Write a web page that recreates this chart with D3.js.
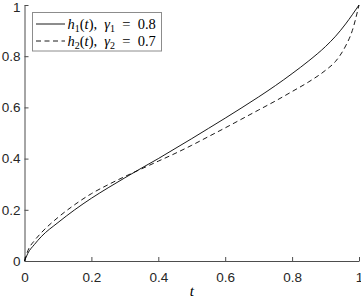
<!DOCTYPE html>
<html>
<head>
<meta charset="utf-8">
<script src="https://cdn.jsdelivr.net/npm/d3@7"></script>
<style>
  body { margin: 0; background: #fff; }
  svg { display: block; }
  .tick text { font-family: "Liberation Sans", Arial, sans-serif; font-size: 13.5px; fill: #262626; }
  .legend text, .xlabel { font-family: "Liberation Serif", "Times New Roman", serif; fill: #000; }
</style>
</head>
<body>
<div id="chart"></div>
<script>
// valores
const tValues  = [0, 0.01, 0.03, 0.05, 0.1, 0.15, 0.2, 0.25, 0.3, 0.35, 0.4, 0.45, 0.5, 0.55, 0.6, 0.65, 0.7, 0.75, 0.8, 0.85, 0.9, 0.93, 0.96, 0.98, 1];
const h1Values = [0, 0.03, 0.065, 0.095, 0.15, 0.2, 0.245, 0.286, 0.325, 0.363, 0.4, 0.439, 0.478, 0.518, 0.558, 0.599, 0.641, 0.685, 0.732, 0.782, 0.838, 0.878, 0.926, 0.962, 1];
const h2Values = [0, 0.04, 0.08, 0.11, 0.17, 0.22, 0.263, 0.298, 0.33, 0.36, 0.39, 0.42, 0.452, 0.486, 0.52, 0.555, 0.59, 0.625, 0.662, 0.7, 0.745, 0.78, 0.84, 0.9, 1];
const xTicks = [0, 0.2, 0.4, 0.6, 0.8, 1];
const yTicks = [0, 0.2, 0.4, 0.6, 0.8, 1];
const seriesNames = [
  {h: "h", sub: "1", g: "γ", val: "0.8", dash: null},
  {h: "h", sub: "2", g: "γ", val: "0.7", dash: "5,3.5"}
];

const W = 361, H = 300;
const margin = {top: 5, right: 2, bottom: 39, left: 24.5};
const width = W - margin.left - margin.right;
const height = H - margin.top - margin.bottom;

const svg = d3.select("#chart").append("svg")
  .attr("width", W).attr("height", H);
const g = svg.append("g")
  .attr("transform", `translate(${margin.left},${margin.top})`);

const x = d3.scaleLinear().domain([0, 1]).range([0, width]);
const y = d3.scaleLinear().domain([0, 1]).range([height, 0]);

// eixos com ticks para dentro
const xAxis = g.append("g")
  .attr("transform", `translate(0,${height})`)
  .call(d3.axisBottom(x).tickValues(xTicks).tickFormat(d3.format("~g"))
    .tickSizeInner(-4).tickSizeOuter(0).tickPadding(11));
const yAxis = g.append("g")
  .call(d3.axisLeft(y).tickValues(yTicks).tickFormat(d3.format("~g"))
    .tickSizeInner(-4).tickSizeOuter(0).tickPadding(4));
[xAxis, yAxis].forEach(a => {
  a.select(".domain").attr("stroke", "#4d4d4d").attr("stroke-width", 1);
  a.selectAll(".tick line").attr("stroke", "#4d4d4d");
});
// o "1" do topo fica um pouco abaixo para não cortar
yAxis.selectAll(".tick text").filter(d => d === 1).attr("dy", "0.5em");

const line = d3.line().x(d => x(d[0])).y(d => y(d[1])).curve(d3.curveMonotoneX);
const series = [h1Values, h2Values];
series.forEach((vals, i) => {
  g.append("path")
    .datum(tValues.map((t, j) => [t, vals[j]]))
    .attr("fill", "none")
    .attr("stroke", "#000")
    .attr("stroke-width", 0.9)
    .attr("stroke-dasharray", seriesNames[i].dash)
    .attr("d", line);
});

// rótulo do eixo x
svg.append("text").attr("class", "xlabel")
  .attr("x", margin.left + x(0.5)).attr("y", 296)
  .attr("text-anchor", "middle")
  .attr("font-size", 15).attr("font-style", "italic")
  .text("t");

// legenda
const legend = svg.append("g").attr("class", "legend");
legend.append("rect")
  .attr("x", 32.5).attr("y", 12.5).attr("width", 129).attr("height", 38.5)
  .attr("fill", "#fff").attr("stroke", "#8c8c8c").attr("stroke-width", 1);
seriesNames.forEach((s, i) => {
  const yy = 24 + i * 17;
  legend.append("line")
    .attr("x1", 36).attr("x2", 65).attr("y1", yy).attr("y2", yy)
    .attr("stroke", "#000").attr("stroke-width", 0.9)
    .attr("stroke-dasharray", s.dash);
  const txt = legend.append("text")
    .attr("x", 67.5).attr("y", yy + 4.5).attr("font-size", 14.5);
  txt.append("tspan").attr("font-style", "italic").text(s.h);
  txt.append("tspan").attr("font-size", 10).attr("dy", 3).text(s.sub);
  txt.append("tspan").attr("dy", -3).text("(");
  txt.append("tspan").attr("font-style", "italic").text("t");
  txt.append("tspan").text("),\u2002");
  txt.append("tspan").attr("font-style", "italic").text(s.g);
  txt.append("tspan").attr("font-size", 10).attr("dy", 3).text(s.sub);
  txt.append("tspan").attr("dy", -3).text("\u2002=\u20020." + s.val.slice(2));
});
</script>
</body>
</html>
